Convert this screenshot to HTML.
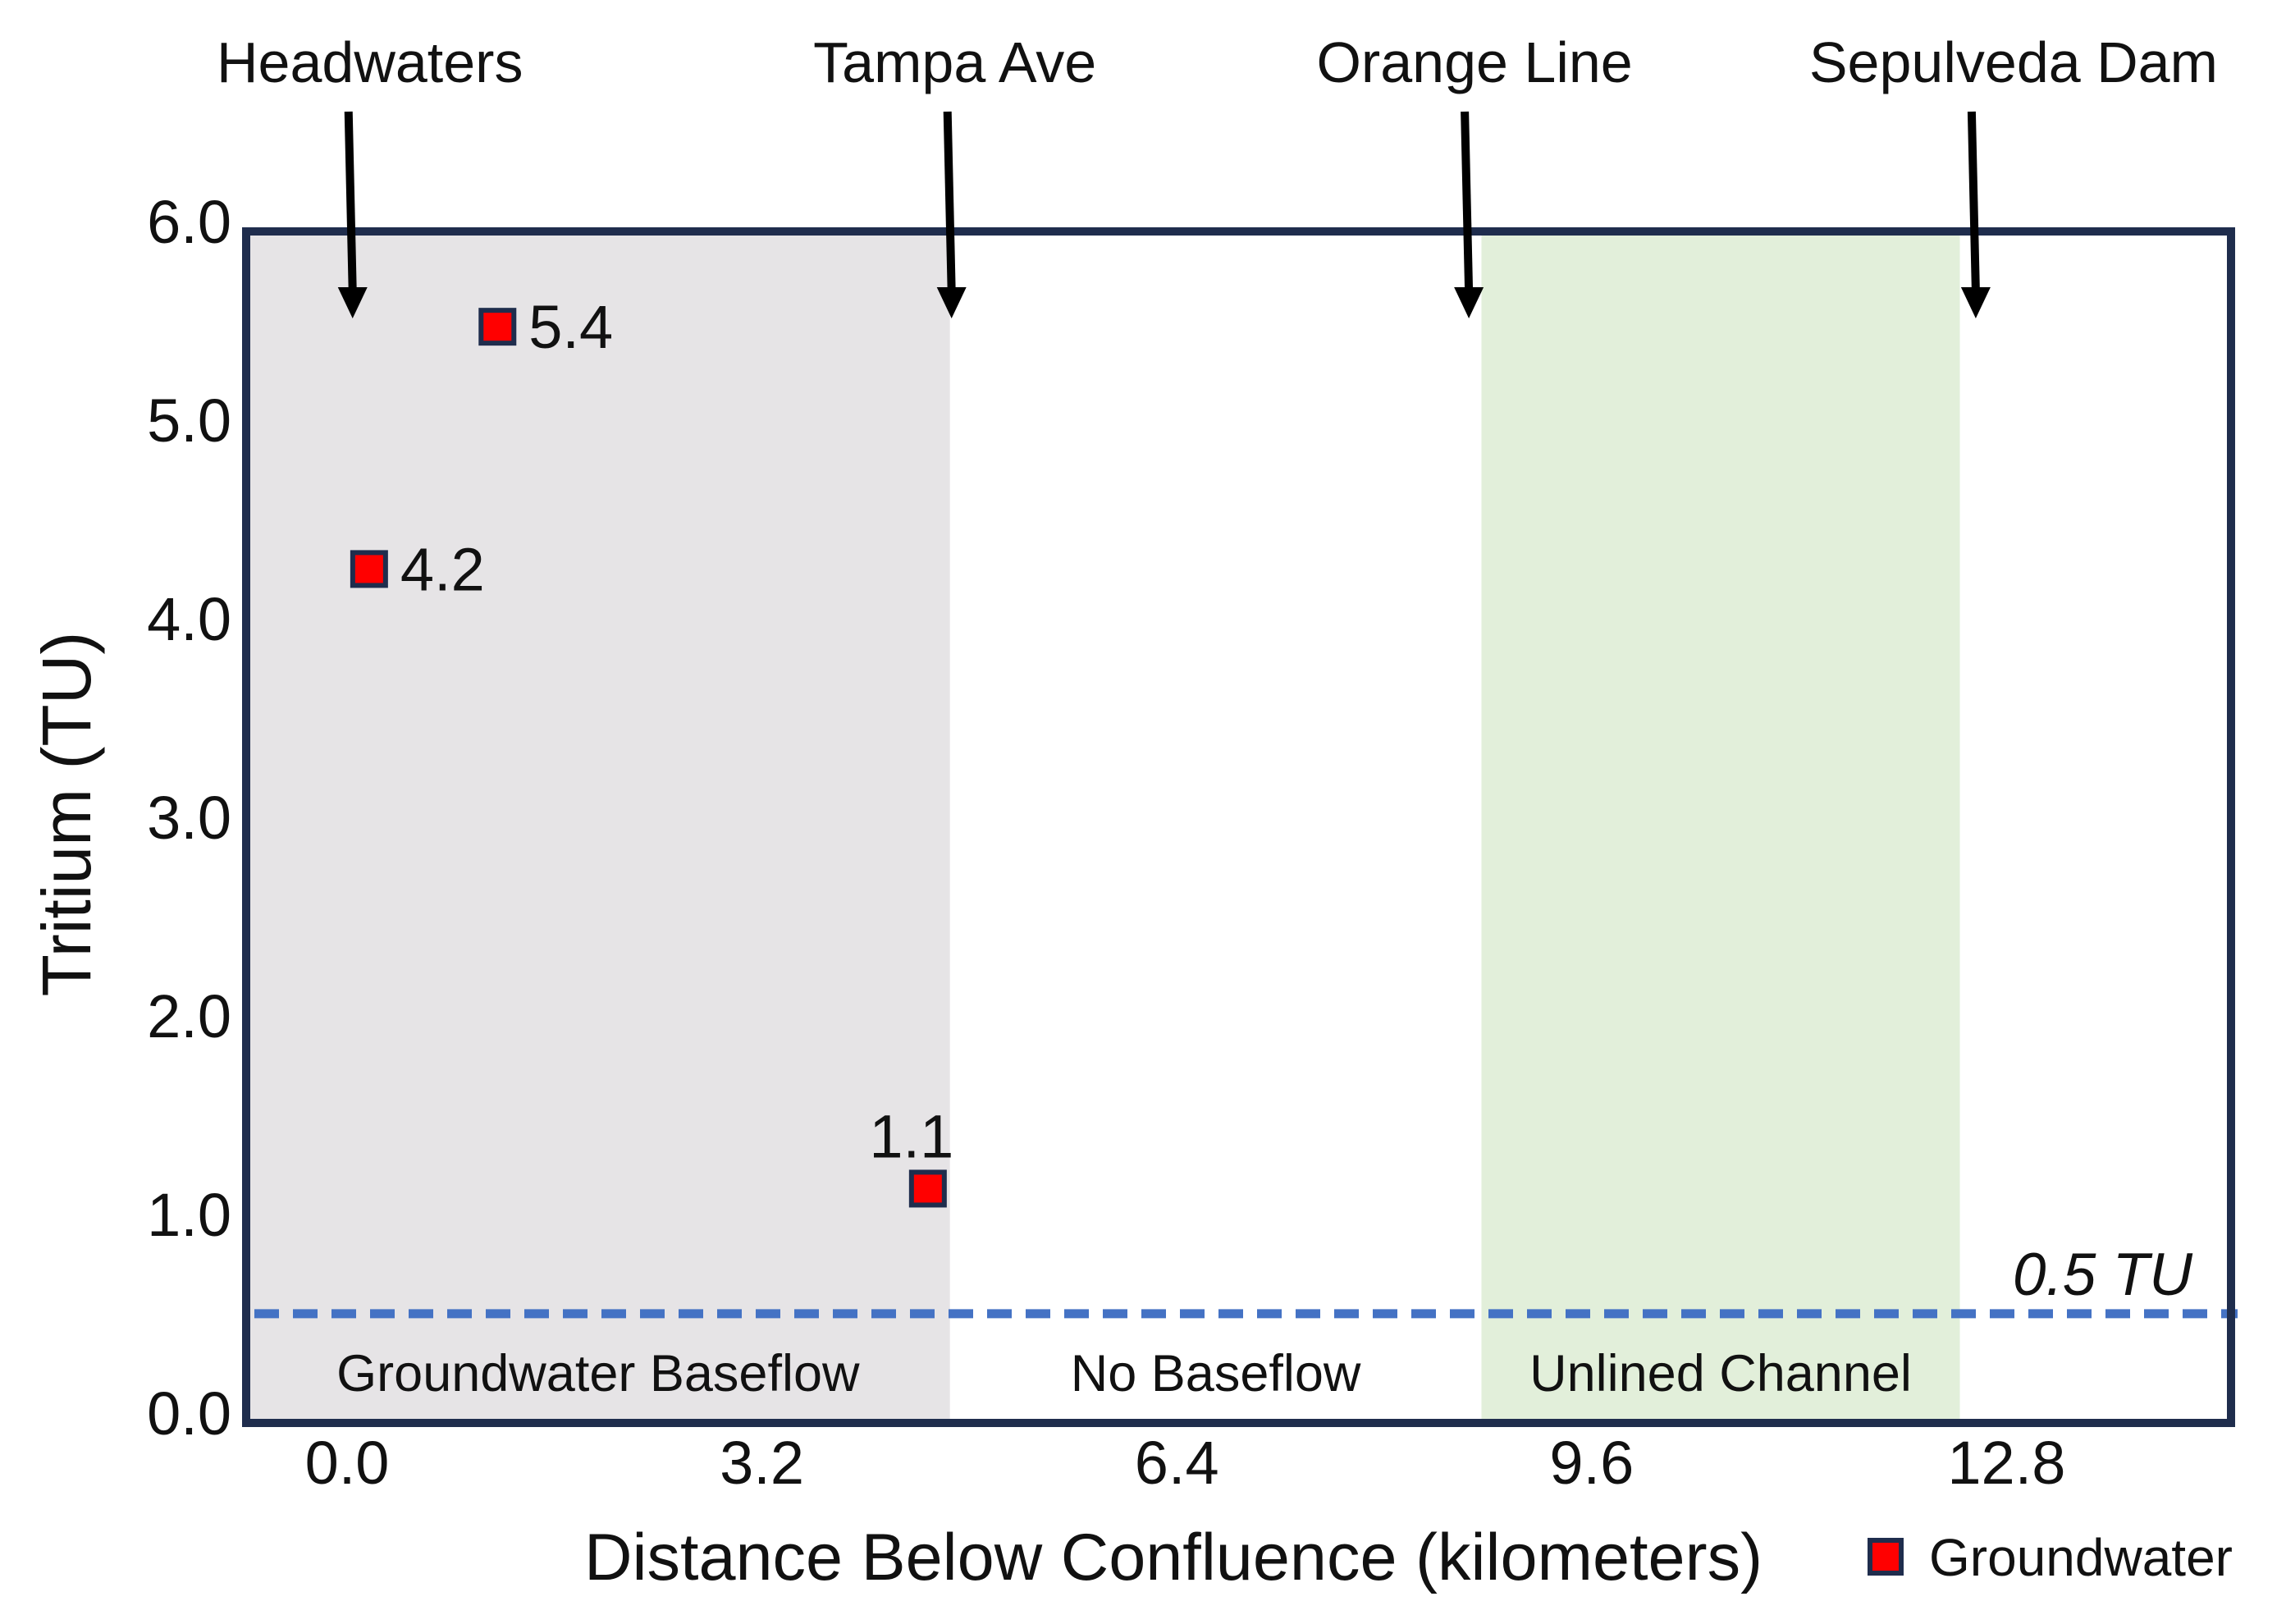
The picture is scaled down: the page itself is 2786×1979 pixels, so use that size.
<!DOCTYPE html>
<html><head><meta charset="utf-8"><style>
html,body{margin:0;padding:0;background:#fff;}
svg{display:block;font-family:"Liberation Sans",sans-serif;}
</style></head><body>
<svg id="chart" width="2786" height="1979" viewBox="0 0 2786 1979">
<g id="bg"></g><g id="marks"></g><g id="axes"></g>
</svg>
<script>
const xTicks=[0.0,3.2,6.4,9.6,12.8];
const yTicks=[0,1,2,3,4,5,6];
const pointX=[1.16,0.17,4.48];
const pointY=[5.52,4.3,1.18];
const pointLabels=["5.4","4.2","1.1"];
const siteNames=["Headwaters","Tampa Ave","Orange Line","Sepulveda Dam"];
const siteX=[0.03,4.65,8.64,12.55];
const siteLabelOffset=[23,6,9,48];
const regionNames=["Groundwater Baseflow","No Baseflow","Unlined Channel"];
const regionStart=[-0.8,4.65,8.75];
const regionEnd=[4.65,8.75,12.44];
const regionFill=["#e6e4e6","none","#e2efda"];
const thresholdTU=0.55;

const L=300,R=2719,T=282,B=1734;
const X=v=>423+v*158.0;
const Y=v=>B-(v/6)*(B-T);
const NS="http://www.w3.org/2000/svg";
function mk(tag,attrs,parent,text){const e=document.createElementNS(NS,tag);for(const k in attrs)e.setAttribute(k,attrs[k]);if(text!==undefined)e.textContent=text;parent.appendChild(e);return e;}
const bg=document.getElementById('bg'),marks=document.getElementById('marks'),axes=document.getElementById('axes');

regionNames.forEach((n,i)=>{
  const x0=Math.max(L,X(regionStart[i])),x1=X(regionEnd[i]);
  if(regionFill[i]!=="none"){
    const r=mk('rect',{x:x0,y:T,width:x1-x0,height:B-T,fill:regionFill[i]},bg);
    
    
  }
  const t=mk('text',{x:(x0+x1)/2,y:1695,'font-size':63,'text-anchor':'middle',fill:'#111'},bg,n);
  
  
});

const th=mk('line',{x1:L+10,x2:R+8,y1:Y(thresholdTU),y2:Y(thresholdTU),stroke:'#4472c4','stroke-width':11,'stroke-dasharray':'30 17'},marks);


const thl=mk('text',{x:2672,y:1578,'font-size':73,'font-style':'italic','text-anchor':'end',fill:'#111'},marks,'0.5 TU');



const box=mk('rect',{x:L,y:T,width:R-L,height:B-T,fill:'none',stroke:'#1f2d4d','stroke-width':10},axes);



yTicks.forEach(v=>{
  const t=mk('text',{x:282,y:Y(v)+14,'font-size':74,'text-anchor':'end',fill:'#111'},axes,v.toFixed(1));
  
  
});
xTicks.forEach(v=>{
  const t=mk('text',{x:X(v),y:1808,'font-size':74,'text-anchor':'middle',fill:'#111'},axes,v.toFixed(1));
  
  
});

pointX.forEach((v,i)=>{
  const cx=X(v),cy=Y(pointY[i]);
  const r=mk('rect',{x:cx-20,y:cy-20,width:40,height:40,fill:'#ff0000',stroke:'#1f2d4d','stroke-width':6},marks);
  
  
  const above=i===2;
  const t=mk('text',{x:above?cx-20:cx+38,y:above?cy-38:cy+26,'font-size':74,'text-anchor':above?'middle':'start',fill:'#111'},marks,pointLabels[i]);
  
  
});

siteNames.forEach((n,i)=>{
  const x=X(siteX[i]);
  const t=mk('text',{x:x+siteLabelOffset[i],y:100,'font-size':70,'text-anchor':'middle',fill:'#111'},axes,n);
  
  
  const l=mk('line',{x1:x-3,y1:136,x2:x+2,y2:355,stroke:'#000','stroke-width':10},axes);
  
  
  const p=mk('polygon',{points:`${x-16},350 ${x+20},350 ${x+2},388`,fill:'#000'},axes);
  
  
});

const xt=mk('text',{x:1430,y:1925,'font-size':81,'text-anchor':'middle',fill:'#111'},axes,'Distance Below Confluence (kilometers)');


const yt=mk('text',{x:0,y:0,'font-size':84,'text-anchor':'middle',fill:'#111',transform:'translate(110,992) rotate(-90)'},axes,'Tritium (TU)');



const lg=mk('rect',{x:2279,y:1877,width:38,height:40,fill:'#ff0000',stroke:'#1f2d4d','stroke-width':6},axes);


const lt=mk('text',{x:2351,y:1920,'font-size':64,fill:'#111'},axes,'Groundwater');


</script>
</body></html>
